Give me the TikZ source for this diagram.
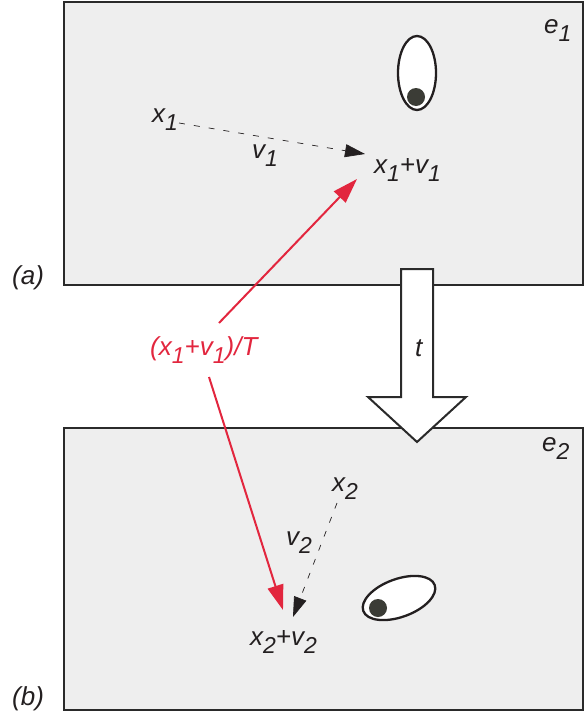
\documentclass[tikz,border=0pt]{standalone}
\usepackage{fontspec}
\setmainfont{Liberation Sans}
\usetikzlibrary{arrows.meta,shapes.geometric}
\definecolor{boxfill}{RGB}{238,238,238}
\definecolor{ink}{RGB}{35,31,32}
\definecolor{edge}{RGB}{42,42,42}
\definecolor{redc}{RGB}{226,38,62}
\definecolor{dotc}{RGB}{59,60,54}
\newcommand\sbs[1]{\raisebox{-8.5pt}{\fontsize{23}{23}\selectfont #1}}
\tikzset{
  panel/.style={draw=edge, line width=2.5pt, fill=boxfill},
  lbl/.style={anchor=base west, inner sep=0pt, text=ink, font=\fontsize{26}{29}\selectfont\itshape},
  redlbl/.style={lbl, text=redc},
  dasharrow/.style={draw=ink, line width=0.7pt, dash pattern=on 6pt off 9pt, -{Triangle[length=20pt,width=13pt]}},
  redarrow/.style={draw=redc, line width=2pt, -{Triangle[length=25pt,width=16pt]}},
  cell/.style={ellipse, draw=ink, line width=2.3pt, fill=white, inner sep=0pt},
  dot/.style={circle, fill=dotc, inner sep=0pt, minimum size=18pt},
  bigarrow/.style={draw=edge, line width=2pt, fill=white, line join=miter}
}
\begin{document}
\begin{tikzpicture}[x=1pt,y=-1pt]
\useasboundingbox (0,0) rectangle (587,712);
% panels
\node[panel, minimum width=519pt, minimum height=283pt, inner sep=0pt] (boxa) at (323.5,143.5) {};
\node[panel, minimum width=519pt, minimum height=282pt, inner sep=0pt] (boxb) at (323.5,569) {};
% big time arrow
\draw[bigarrow] (401,269) -- (433,269) -- (433,397) -- (466,397) -- (417,442) -- (368,397) -- (401,397) -- cycle;
\node[lbl] (t) at (415,356) {t};
% cells
\node[cell, minimum width=38pt, minimum height=74pt] (cella) at (417,73) {};
\node[dot] (dota) at (416,97) {};
\node[cell, minimum width=76pt, minimum height=38pt, rotate=20] (cellb) at (399,598) {};
\node[dot] (dotb) at (378,608) {};
% labels
\node[lbl] (e1) at (544,33) {e\sbs{1}};
\node[lbl] (e2) at (542,451) {e\sbs{2}};
\node[lbl] (la) at (12,284) {(a)};
\node[lbl] (lb) at (12,705) {(b)};
\node[lbl] (x1) at (152,122) {x\sbs{1}};
\node[lbl] (v1) at (252,158) {v\sbs{1}};
\node[lbl] (x1v1) at (374,173) {x\sbs{1}+v\sbs{1}};
\node[lbl] (x2) at (332,491) {x\sbs{2}};
\node[lbl] (v2) at (286,545) {v\sbs{2}};
\node[lbl] (x2v2) at (250,645) {x\sbs{2}+v\sbs{2}};
\node[redlbl] (rl) at (150,355) {(x\sbs{1}+v\sbs{1})/T};
% connector endpoints
\coordinate (s1) at (179,123);
\coordinate (e1t) at (365,154);
\coordinate (s2) at (337,503);
\coordinate (e2t) at (293,617);
\coordinate (r1s) at (219,323);
\coordinate (r1e) at (357,179);
\coordinate (r2s) at (209,377);
\coordinate (r2e) at (283,610);
\draw[dasharrow] (s1) -- (e1t);
\draw[dasharrow] (s2) -- (e2t);
\draw[redarrow] (r1s) -- (r1e);
\draw[redarrow] (r2s) -- (r2e);
\end{tikzpicture}
\end{document}
